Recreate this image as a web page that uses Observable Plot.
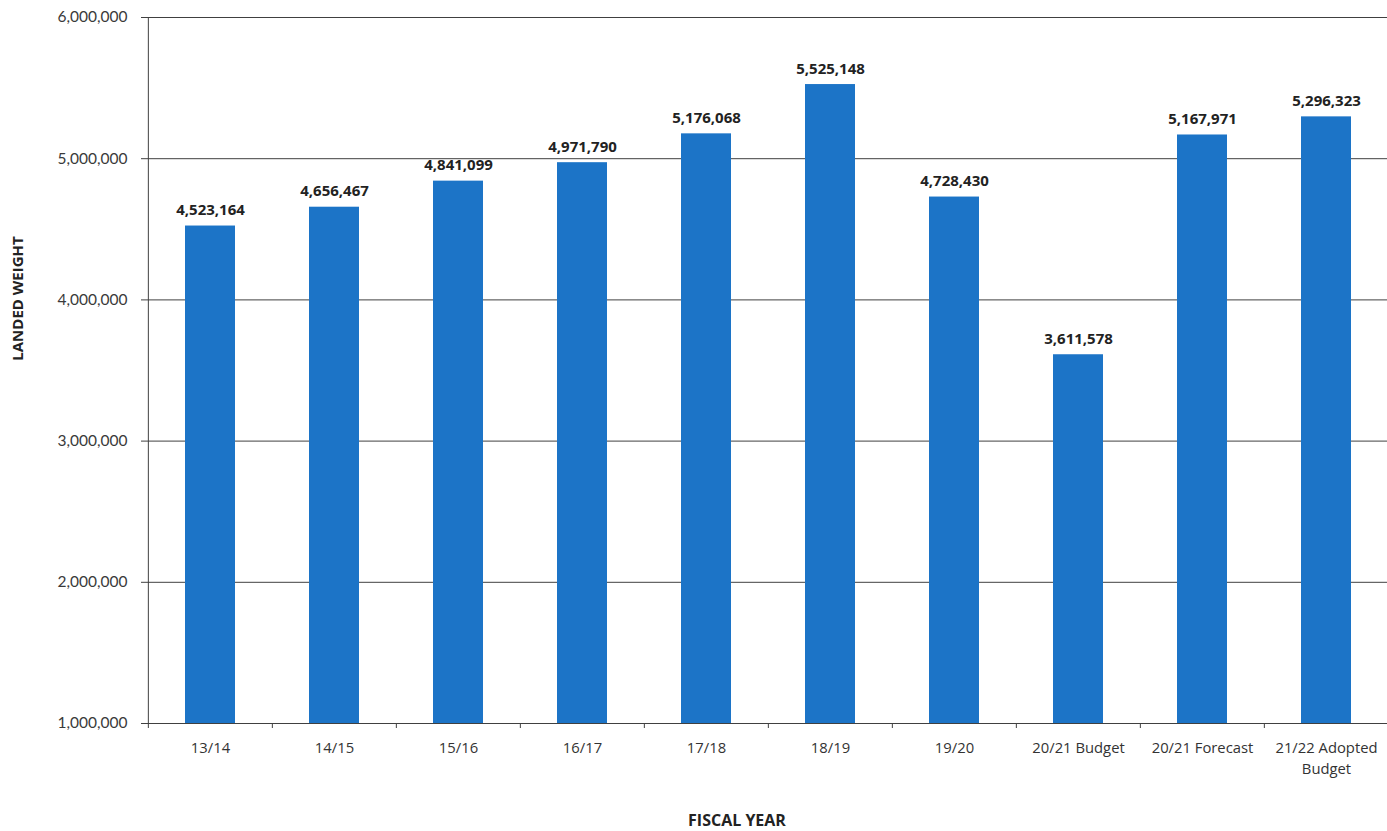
<!DOCTYPE html>
<html>
<head>
<meta charset="utf-8">
<script src="https://cdn.jsdelivr.net/npm/d3@7"></script>
<script src="https://cdn.jsdelivr.net/npm/@observablehq/plot@0.6"></script>
<style>
  html, body { margin: 0; padding: 0; background: #fff; }
  #chart svg { display: block; }
</style>
</head>
<body>
<div id="chart"></div>
<script>
// Fiscal years and landed weight per year
const years = ["13/14", "14/15", "15/16", "16/17", "17/18", "18/19", "19/20", "20/21 Budget", "20/21 Forecast", "21/22 Adopted Budget"];
const landedWeight = [4523164, 4656467, 4841099, 4971790, 5176068, 5525148, 4728430, 3611578, 5167971, 5296323];
const yTicks = [1000000, 2000000, 3000000, 4000000, 5000000, 6000000];
const yTitle = "LANDED WEIGHT";
const xTitle = "FISCAL YEAR";

const data = years.map((year, i) => ({year, value: landedWeight[i]}));
const fmt = d3.format(",");

const plotLeft = 146, plotRight = 1389;
const step = (plotRight - plotLeft) / years.length;

const chart = Plot.plot({
  width: 1387,
  height: 831,
  marginLeft: plotLeft,
  marginRight: 0,
  marginTop: 17,
  marginBottom: 108,
  style: {background: "#fff", overflow: "hidden"},
  x: {domain: years, range: [plotLeft, plotRight], paddingInner: 0.6, paddingOuter: 0.3},
  y: {domain: [1000000, 6000000]},
  marks: [
    // horizontal gridlines at each million
    Plot.ruleY(yTicks, {stroke: "#404040", strokeWidth: 1}),
    // bars start from the axis baseline
    Plot.barY(data, {x: "year", y1: 1000000, y2: "value", fill: "#1c74c7"}),
    // left axis line
    Plot.ruleX([years[0]], {dx: -step / 2, stroke: "#404040", strokeWidth: 1}),
    // small ticks on the category axis between bars
    Plot.ruleX(years, {dx: -step / 2, stroke: "#404040", strokeWidth: 1, insetTop: 706, insetBottom: -5}),
    Plot.axisY(yTicks, {
      tickSize: 5, tickPadding: 14, tickFormat: fmt, label: null,
      stroke: "#404040", fill: "#3a3a3a", fontSize: 15.5, fontFamily: "Lato"
    }),
    Plot.axisX({
      tickSize: 0, tickPadding: 14, label: null, lineWidth: 8, lineHeight: 1.45,
      fill: "#333", fontSize: 14.8, fontFamily: "Open Sans"
    }),
    // value labels above each bar
    Plot.text(data, {
      x: "year", y: "value", text: d => fmt(d.value), dy: -11, lineAnchor: "bottom",
      fontWeight: "bold", fontSize: 15, fontFamily: "Open Sans", fill: "#222"
    }),
    // axis titles
    Plot.text([yTitle], {
      frameAnchor: "left", textAnchor: "middle", lineAnchor: "middle",
      dx: -128, dy: -72, rotate: -90,
      fontWeight: "bold", fontSize: 15, fontFamily: "Open Sans", fill: "#222"
    }),
    Plot.text([xTitle], {
      frameAnchor: "bottom", textAnchor: "middle", lineAnchor: "middle",
      dx: -30, dy: 97,
      fontWeight: "bold", fontSize: 16, fontFamily: "Open Sans", fill: "#222"
    })
  ]
});

document.getElementById("chart").appendChild(chart);
</script>
</body>
</html>
